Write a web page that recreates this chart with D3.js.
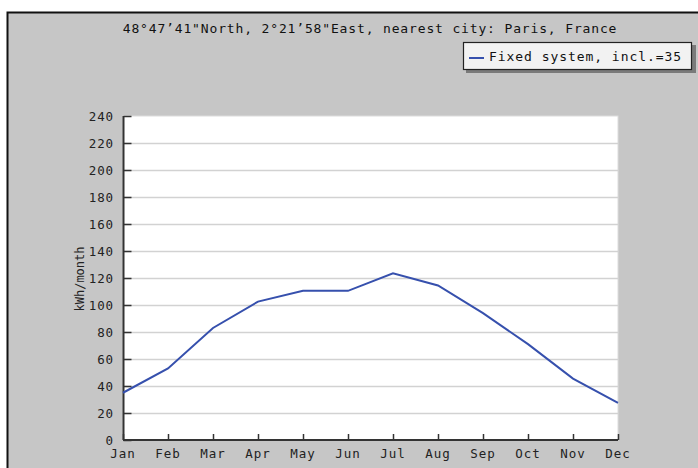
<!DOCTYPE html>
<html><head><meta charset="utf-8">
<script src="https://cdn.jsdelivr.net/npm/d3@7"></script>
<style>body{margin:0;background:#fff;}svg{display:block;}</style>
</head><body>
<script>
const months = ["Jan","Feb","Mar","Apr","May","Jun","Jul","Aug","Sep","Oct","Nov","Dec"];
const values = [35, 53, 83, 102.5, 110.5, 110.5, 123.5, 114.5, 94, 71, 45.5, 27.5];
const yTicks = [0,20,40,60,80,100,120,140,160,180,200,220,240];
const titleText = "48°47’41\"North, 2°21’58\"East, nearest city: Paris, France";
const legendText = "Fixed system, incl.=35";
const yLabel = "kWh/month";

const W = 698, H = 468;
const font = "'DejaVu Sans Mono', 'Liberation Mono', monospace";
const svg = d3.select("body").append("svg").attr("width", W).attr("height", H);

// background frame
svg.append("rect").attr("x", 7.5).attr("y", 12.5).attr("width", W).attr("height", H)
  .attr("fill", "#c6c6c6").attr("stroke", "#111").attr("stroke-width", 2);

const m = {l:123, r:618, t:116, b:440};
const x = d3.scalePoint().domain(months).range([m.l, m.r]);
const y = d3.scaleLinear().domain([0,240]).range([m.b, m.t]);

svg.append("rect").attr("x", m.l).attr("y", m.t).attr("width", m.r-m.l).attr("height", m.b-m.t)
  .attr("fill", "#fff").attr("stroke", "#dcdcdc");

// gridlines
svg.append("g").selectAll("line").data(yTicks.filter(d=>d>0 && d<240)).join("line")
  .attr("x1", m.l).attr("x2", m.r).attr("y1", d=>y(d)+0.5).attr("y2", d=>y(d)+0.5)
  .attr("stroke", "#d2d2d2").attr("stroke-width", 1.5);

// y axis
const yAxis = svg.append("g").attr("transform", `translate(${m.l+0.5},0)`)
  .call(d3.axisRight(y).tickValues(yTicks).tickSize(8).tickFormat(""));
yAxis.select(".domain").attr("stroke", "#333").attr("stroke-width", 2).attr("d", `M0,${m.t}V${m.b}`);
yAxis.selectAll(".tick line").attr("stroke", "#333").attr("stroke-width", 1.5);
svg.append("g").selectAll("text").data(yTicks).join("text")
  .attr("x", 114).attr("y", d=>y(d)).attr("dy", "0.38em").attr("text-anchor", "end")
  .attr("font-family", font).attr("font-size", 12.5).attr("letter-spacing", 0.9).attr("fill", "#222").text(d=>d);

// x axis
const xAxis = svg.append("g").attr("transform", `translate(0,${m.b})`)
  .call(d3.axisTop(x).tickSize(6).tickFormat(""));
xAxis.select(".domain").attr("stroke", "#333").attr("stroke-width", 2).attr("d", `M${m.l},0H${m.r}`);
xAxis.selectAll(".tick line").attr("stroke", "#333").attr("stroke-width", 1.5);
svg.append("g").selectAll("text").data(months).join("text")
  .attr("x", d=>x(d)).attr("y", 458).attr("text-anchor", "middle")
  .attr("font-family", font).attr("font-size", 12.5).attr("letter-spacing", 0.9).attr("fill", "#222").text(d=>d);

// y label
svg.append("text").attr("transform", "translate(84,279) rotate(-90)").attr("text-anchor", "middle")
  .attr("font-family", font).attr("font-size", 12).attr("fill", "#222").text(yLabel);

// line
const line = d3.line().x((d,i)=>x(months[i])).y(d=>y(d));
svg.append("path").datum(values).attr("d", line).attr("fill", "none")
  .attr("stroke", "#3650ad").attr("stroke-width", 2);

// title
svg.append("text").attr("x", 370).attr("y", 33).attr("text-anchor", "middle")
  .attr("font-family", font).attr("font-size", 13).attr("letter-spacing", 0.85).attr("fill", "#111").text(titleText);

// legend
svg.append("rect").attr("x", 466).attr("y", 45).attr("width", 230).attr("height", 28).attr("fill", "#7a7a7a");
svg.append("rect").attr("x", 463.5).attr("y", 42.5).attr("width", 228).attr("height", 27)
  .attr("fill", "#f2f2f2").attr("stroke", "#222").attr("stroke-width", 1.2);
svg.append("line").attr("x1", 469).attr("x2", 484).attr("y1", 58).attr("y2", 58)
  .attr("stroke", "#3650ad").attr("stroke-width", 2);
svg.append("text").attr("x", 489).attr("y", 61).attr("font-family", font).attr("font-size", 13)
  .attr("letter-spacing", 0.95).attr("fill", "#111").text(legendText);
</script>
</body></html>
